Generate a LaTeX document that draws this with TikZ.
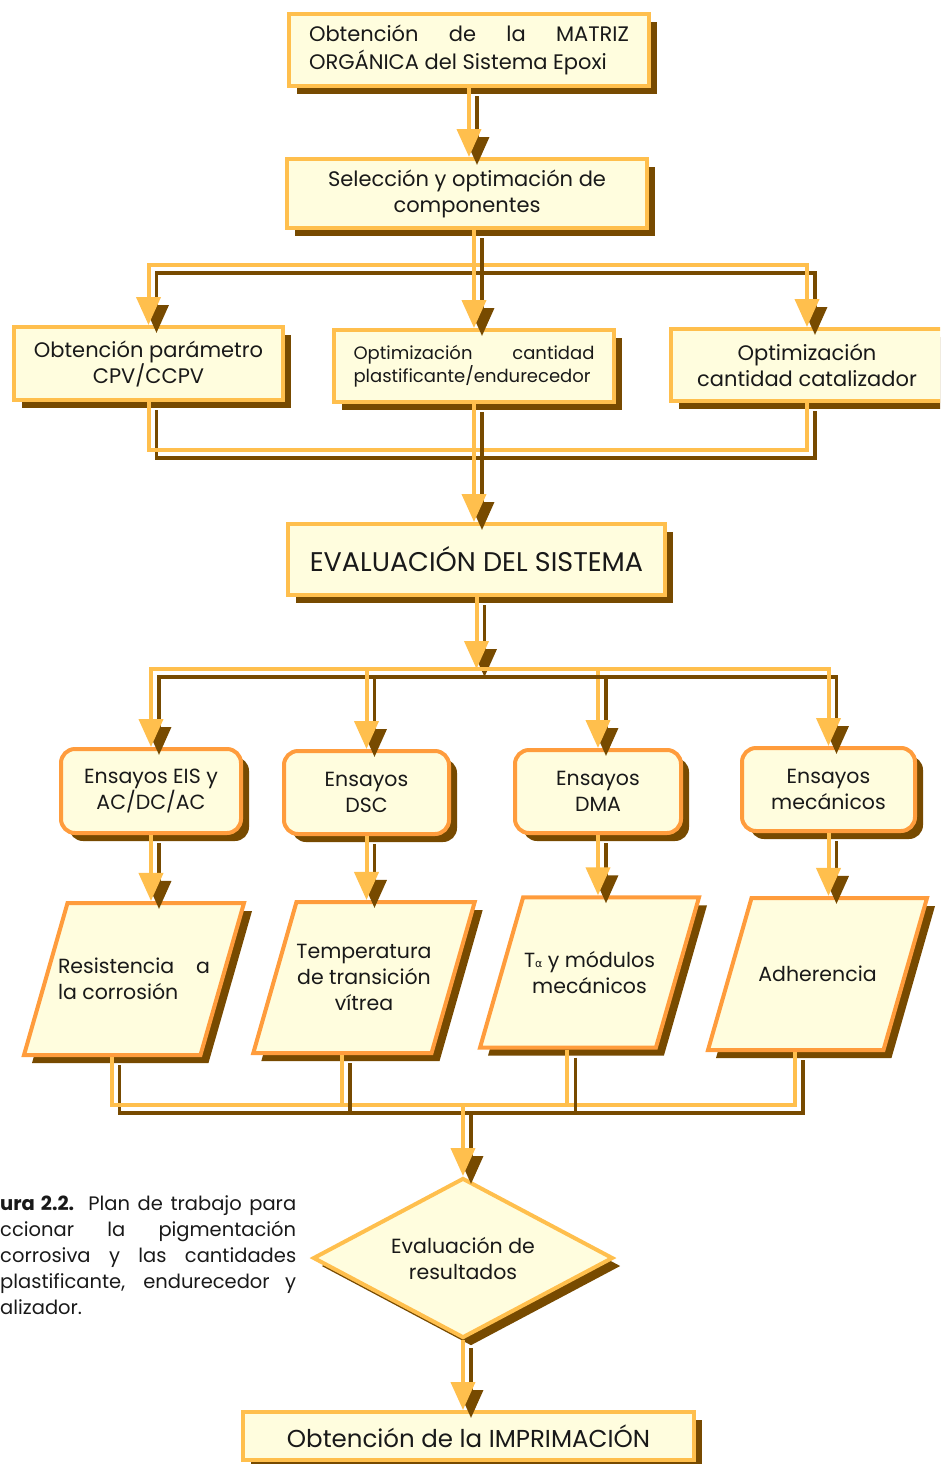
\documentclass[tikz,border=0pt]{standalone}
\usepackage{fontspec}
\setmainfont{Poppins}
\newfontfamily\griega{DejaVu Sans}
\usetikzlibrary{shapes.geometric, arrows.meta, shadows}

\definecolor{crema}{RGB}{255,253,222}
\definecolor{ambar}{RGB}{255,191,77}
\definecolor{naranja}{RGB}{255,156,60}
\definecolor{cafe}{RGB}{119,74,0}
\definecolor{tinta}{RGB}{25,25,25}

\tikzset{
  sombra/.style={drop shadow={shadow xshift=8pt, shadow yshift=-8pt, fill=cafe, opacity=1}},
  caja/.style={draw=ambar, fill=crema, line width=4pt, sombra, inner sep=0pt, text=tinta,
    font=\fontsize{21}{26}\selectfont, align=center},
  ensayo/.style={caja, draw=naranja, rounded corners=14pt, font=\fontsize{20.5}{26}\selectfont},
  dato/.style={caja, draw=naranja, trapezium, trapezium left angle=74, trapezium right angle=106,
    trapezium stretches body=true, font=\fontsize{20.5}{26}\selectfont},
  decision/.style={caja, diamond, aspect=1.9, font=\fontsize{20.5}{26}\selectfont},
  linea/.style={draw=ambar, line width=4pt,
    preaction={draw=cafe, line width=3.5pt, transform canvas={xshift=8pt, yshift=-8pt}}},
  flujo/.style={linea, -{Triangle[width=24pt, length=28pt]}}
}

\begin{document}
\begin{tikzpicture}[x=1pt, y=-1pt]
            \useasboundingbox (0,0) rectangle (940,1464);
            \clip (0,0) rectangle (940,1464);

            \node (mat) at (469,50) [caja, minimum width=360, minimum height=72, align=left,
              font=\fontsize{21}{28}\selectfont]
              {\makebox[320pt][s]{Obtención de la MATRIZ}\\ORGÁNICA del Sistema Epoxi};
            \node (sel) at (467,193.5) [caja, minimum width=360, minimum height=69]
              {Selección y optimación de\\componentes};
            \node (cpv) at (148.5,363.5) [caja, minimum width=269, minimum height=73]
              {Obtención parámetro\\CPV/CCPV};
            \node (opt) at (474,366) [caja, minimum width=280, minimum height=72, align=left,
              font=\fontsize{18}{23}\selectfont]
              {\makebox[241pt][s]{Optimización cantidad}\\plastificante/endurecedor};
            \node (cat) at (807,365) [caja, minimum width=272, minimum height=72]
              {Optimización\\cantidad catalizador};
            \node (eva) at (476.5,559.5) [caja, minimum width=377, minimum height=71,
              font=\fontsize{27}{32}\selectfont] {EVALUACIÓN DEL SISTEMA};

            \node (eis) at (151,791) [ensayo, minimum width=180, minimum height=84] {Ensayos EIS y\\AC/DC/AC};
            \node (dsc) at (366.5,792.5) [ensayo, minimum width=165, minimum height=83] {Ensayos\\DSC};
            \node (dma) at (598,791.5) [ensayo, minimum width=166, minimum height=83] {Ensayos\\DMA};
            \node (mec) at (828.5,789.5) [ensayo, minimum width=173, minimum height=83] {Ensayos\\mecánicos};

            \node (res) at (134,979) [dato, inner ysep=55, inner xsep=-14, minimum width=220, minimum height=152,
              align=left] {\makebox[152pt][s]{Resistencia a}\\la corrosión};
            \node (tem) at (364,977.5) [dato, inner ysep=42, minimum width=218, minimum height=151]
              {Temperatura\\de transición\\vítrea};
            \node (tal) at (589.5,972.5) [dato, inner ysep=54, minimum width=219, minimum height=149]
              {T{\griega\fontsize{11}{11}\selectfont α} y módulos\\mecánicos};
            \node (adh) at (817.5,974) [dato, inner ysep=68, minimum width=219, minimum height=152] {Adherencia};

            \node (evr) at (463,1258) [decision, minimum width=300, minimum height=160] {Evaluación de\\resultados};
            \node (imp) at (468.5,1436) [caja, minimum width=451, minimum height=48,
              font=\fontsize{24.5}{28}\selectfont] {Obtención de la IMPRIMACIÓN};

            \node (leyenda) at (0,1195) [anchor=north west, inner sep=0pt, text=tinta, align=left,
              font=\fontsize{19.5}{26}\selectfont]
              {\makebox[296pt][s]{\textbf{ura 2.2.} Plan de trabajo para}\\
               \makebox[296pt][s]{ccionar la pigmentación}\\
               \makebox[296pt][s]{corrosiva y las cantidades}\\
               \makebox[296pt][s]{plastificante, endurecedor y}\\
               alizador.};

            \coordinate (bus3) at (463,1103);

            \draw[flujo] (mat.south) -- (mat.south |- sel.north);
            \draw[flujo] (opt.north |- sel.south) -- ++(0,35) -| (cpv.north);
            \draw[flujo] (opt.north |- sel.south) -- ++(0,35) -| (cat.north);
            \draw[flujo] (opt.north |- sel.south) -- (opt.north);
            \draw[linea] (cpv.south) -- ++(0,48) -| (cat.south);
            \draw[flujo] (opt.south) -- (opt.south |- eva.north);
            \draw[flujo] (eva.south) -- ++(0,72) coordinate (bus2);
            \draw[flujo] (bus2) -| (eis.north);
            \draw[flujo] (bus2) -| (dsc.north);
            \draw[flujo] (bus2) -| (dma.north);
            \draw[flujo] (bus2) -| (mec.north);
            \draw[flujo] (eis.south) -- (eis.south |- res.north);
            \draw[flujo] (dsc.south) -- (dsc.south |- tem.north);
            \draw[flujo] (dma.south) -- (dma.south |- tal.north);
            \draw[flujo] (mec.south) -- (mec.south |- adh.north);
            \draw[linea] (res.bottom side) -- ++(0,48) -| (adh.bottom side);
            \draw[linea] (tem.bottom side) -- (tem.bottom side |- bus3);
            \draw[linea] (tal.bottom side) -- (tal.bottom side |- bus3);
            \draw[flujo] (bus3) -- (evr.north);
            \draw[flujo] (evr.south) -- (evr.south |- imp.north);
        \end{tikzpicture}
\end{document}
